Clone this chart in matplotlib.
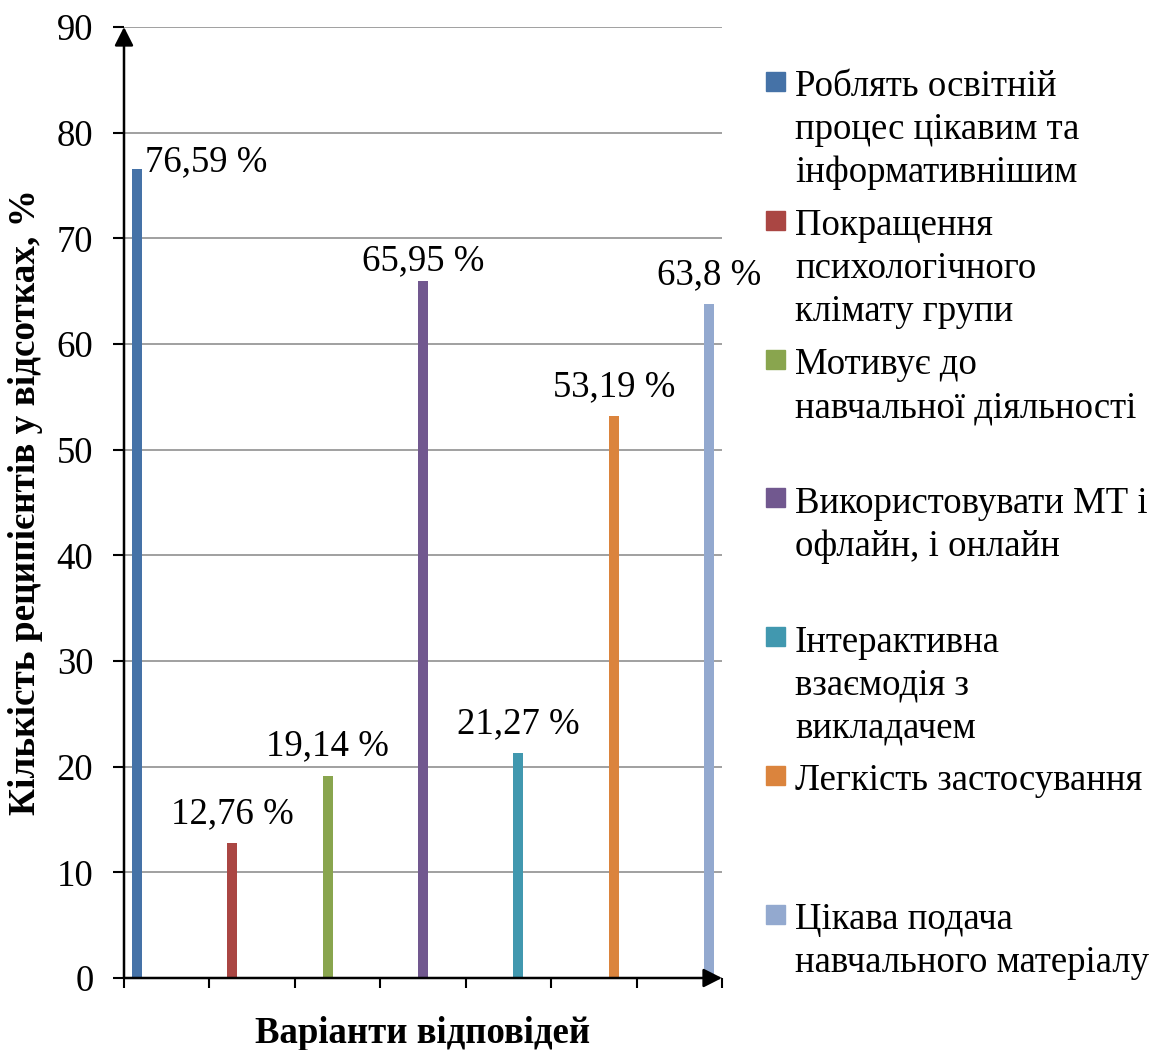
import numpy as np
import matplotlib.pyplot as plt
from matplotlib.patches import Rectangle

plt.rcParams['font.family'] = ['Liberation Serif', 'DejaVu Serif']

labels = [
    "Роблять освітній\nпроцес цікавим та\nінформативнішим",
    "Покращення\nпсихологічного\nклімату групи",
    "Мотивує до\nнавчальної діяльності",
    "Використовувати МТ і\nофлайн, і онлайн",
    "Інтерактивна\nвзаємодія з\nвикладачем",
    "Легкість застосування",
    "Цікава подача\nнавчального матеріалу",
]
values = [76.59, 12.76, 19.14, 65.95, 21.27, 53.19, 63.8]
value_text = ["76,59 %", "12,76 %", "19,14 %", "65,95 %", "21,27 %", "53,19 %", "63,8 %"]
colors = ["#4572A7", "#AA4643", "#89A54E", "#71588F", "#4198AF", "#DB843D", "#93A9CF"]

W, H = 1157, 1050
fig = plt.figure(figsize=(W / 100, H / 100), dpi=100)
ax = fig.add_axes([124 / W, 1 - 978 / H, (722 - 124) / W, (978 - 27) / H])

# clustered layout: each series sits in its own slot of a 7-bar cluster
n = len(values)
idx = np.arange(n)
bw = 0.117
xpos = idx + (idx - (n - 1) / 2) * bw
ax.bar(xpos, values, width=bw, color=colors, zorder=3)

ax.set_xlim(-0.5, n - 0.5)
ax.set_ylim(0, 90)
ax.set_yticks(np.arange(0, 91, 10))
ax.set_xticks(np.arange(-0.5, n, 1))
ax.set_xticklabels([])
ax.tick_params(axis='y', labelsize=26.5, length=8, width=1.5, pad=14)
ax.tick_params(axis='x', length=7, width=1.5)
ax.yaxis.grid(True, color='#a0a0a0', lw=1.4)
ax.set_axisbelow(True)
for s in ax.spines.values():
    s.set_visible(False)

arrow = dict(arrowstyle='-|>,head_length=0.75,head_width=0.38', lw=1.8,
             color='black', shrinkA=0, shrinkB=0, mutation_scale=15)
ax.annotate('', xy=(0, 1), xytext=(0, 0), xycoords='axes fraction', arrowprops=arrow, zorder=5)
ax.annotate('', xy=(1, 0), xytext=(0, 0), xycoords='axes fraction', arrowprops=arrow, zorder=5)

# data labels
for i, (x, v, t) in enumerate(zip(xpos, values, value_text)):
    if i == 0:
        ax.annotate(t, (x + bw / 2, v), xytext=(2, -2), textcoords='offset points',
                    ha='left', va='baseline', fontsize=26.5)
    else:
        dy = 8 if i == 3 else 14.5
        ax.annotate(t, (x, v), xytext=(0, dy), textcoords='offset points',
                    ha='center', va='baseline', fontsize=26.5)

ax.set_ylabel("Кількість реципієнтів у відсотках, %", fontsize=26.8, fontweight='bold')
ax.yaxis.set_label_coords(-0.135, 0.5)
ax.set_xlabel("Варіанти відповідей", fontsize=26.5, fontweight='bold', labelpad=17)

# legend with evenly spaced entries
step = 138.8
for i, (lab, c) in enumerate(zip(labels, colors)):
    top = 72 + i * step
    fig.add_artist(Rectangle((766 / W, 1 - (top + 19) / H), 19 / W, 19 / H,
                             transform=fig.transFigure, color=c))
    fig.text(795 / W, 1 - (top - 2) / H, lab, fontsize=26.5, va='top',
             ha='left', linespacing=1.32)

fig.savefig('out.png', dpi=100)
